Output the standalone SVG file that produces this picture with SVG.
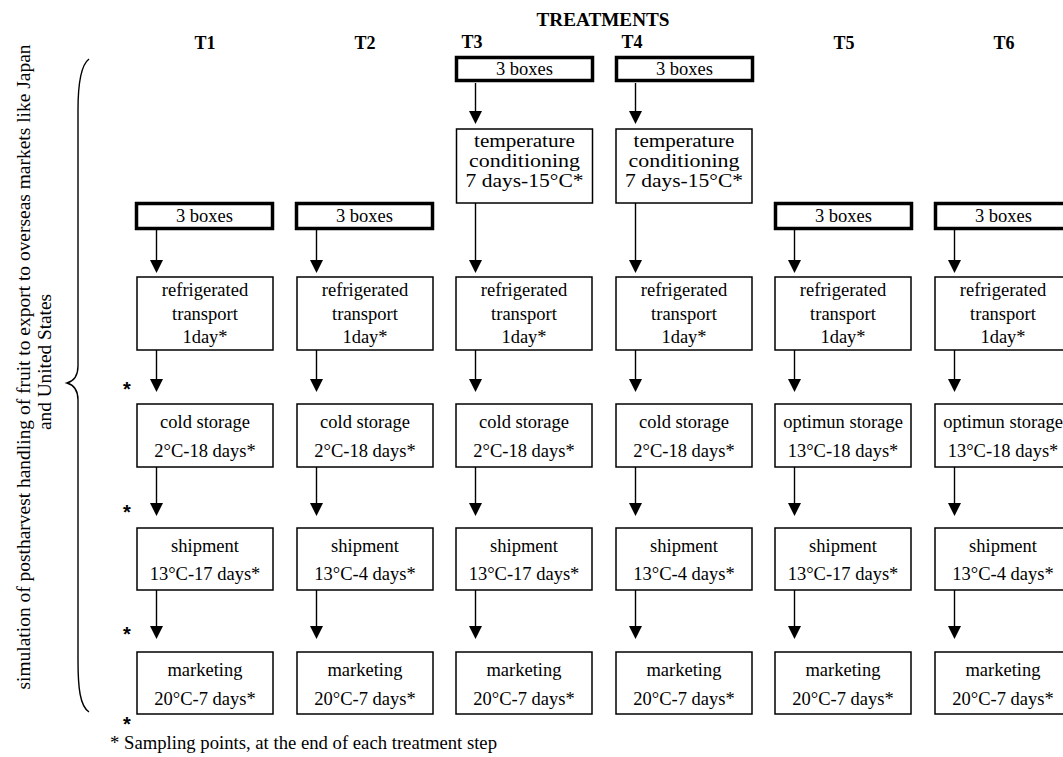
<svg xmlns="http://www.w3.org/2000/svg" width="1063" height="757" viewBox="0 0 1063 757">
<style>
.bx{fill:#fff;stroke:#000;stroke-width:1.5}
.tk{fill:#fff;stroke:#000;stroke-width:3.5}
.t{font-family:"Liberation Serif","Times New Roman",serif;font-size:18.5px;fill:#000;text-anchor:middle}
.ft{font-family:"Liberation Serif","Times New Roman",serif;font-size:18.5px;fill:#000;text-anchor:start}
.h{font-family:"Liberation Serif","Times New Roman",serif;font-size:18px;font-weight:bold;fill:#000;text-anchor:middle}
.st{font-family:"Liberation Sans",Arial,sans-serif;font-size:20px;font-weight:bold;fill:#000;text-anchor:middle}
.ln{stroke:#000;stroke-width:1.4;fill:none}
</style>
<defs>
<path id="head" d="M-6.5,-13 L6.5,-13 L0,0 Z"/>
</defs>

<g id="headers">
<text class="h" x="603" y="26" font-size="17" textLength="133" lengthAdjust="spacingAndGlyphs">TREATMENTS</text>
<text class="h" x="205" y="49">T1</text>
<text class="h" x="365" y="49">T2</text>
<text class="h" x="472" y="48">T3</text>
<text class="h" x="632" y="48">T4</text>
<text class="h" x="844" y="49">T5</text>
<text class="h" x="1004" y="49">T6</text>
</g>

<g id="side-label">
<path class="ln" stroke-width="1.3" d="M89,59 C81,65 78,85 78,110 L78,366 C78,376 74,381 67,383 C74,385 78,390 78,400 L78,660 C78,688 80,706 89,712"/>
<text class="t" font-size="19" transform="translate(30,367) rotate(-90)" textLength="645" lengthAdjust="spacingAndGlyphs">simulation of postharvest handling of fruit to export to overseas markets like Japan</text>
<text class="t" font-size="19" transform="translate(51,362) rotate(-90)" textLength="136" lengthAdjust="spacingAndGlyphs">and United States</text>
</g>

<g id="connectors">
<!-- T1 -->
<line class="ln" x1="156.5" y1="230" x2="156.5" y2="260"/><use href="#head" x="156.5" y="273"/>
<line class="ln" x1="156.5" y1="350" x2="156.5" y2="380"/><use href="#head" x="156.5" y="392"/>
<line class="ln" x1="156.5" y1="467" x2="156.5" y2="503"/><use href="#head" x="156.5" y="516"/>
<line class="ln" x1="156.5" y1="590" x2="156.5" y2="626"/><use href="#head" x="156.5" y="639"/>
<!-- T2 -->
<line class="ln" x1="316.5" y1="230" x2="316.5" y2="260"/><use href="#head" x="316.5" y="273"/>
<line class="ln" x1="316.5" y1="350" x2="316.5" y2="380"/><use href="#head" x="316.5" y="392"/>
<line class="ln" x1="316.5" y1="467" x2="316.5" y2="503"/><use href="#head" x="316.5" y="516"/>
<line class="ln" x1="316.5" y1="590" x2="316.5" y2="626"/><use href="#head" x="316.5" y="639"/>
<!-- T3 -->
<line class="ln" x1="475.5" y1="83" x2="475.5" y2="111"/><use href="#head" x="475.5" y="124"/>
<line class="ln" x1="475.5" y1="203" x2="475.5" y2="260"/><use href="#head" x="475.5" y="273"/>
<line class="ln" x1="475.5" y1="350" x2="475.5" y2="380"/><use href="#head" x="475.5" y="392"/>
<line class="ln" x1="475.5" y1="467" x2="475.5" y2="503"/><use href="#head" x="475.5" y="516"/>
<line class="ln" x1="475.5" y1="590" x2="475.5" y2="626"/><use href="#head" x="475.5" y="639"/>
<!-- T4 -->
<line class="ln" x1="635.5" y1="83" x2="635.5" y2="111"/><use href="#head" x="635.5" y="124"/>
<line class="ln" x1="635.5" y1="203" x2="635.5" y2="260"/><use href="#head" x="635.5" y="273"/>
<line class="ln" x1="635.5" y1="350" x2="635.5" y2="380"/><use href="#head" x="635.5" y="392"/>
<line class="ln" x1="635.5" y1="467" x2="635.5" y2="503"/><use href="#head" x="635.5" y="516"/>
<line class="ln" x1="635.5" y1="590" x2="635.5" y2="626"/><use href="#head" x="635.5" y="639"/>
<!-- T5 -->
<line class="ln" x1="794.5" y1="230" x2="794.5" y2="260"/><use href="#head" x="794.5" y="273"/>
<line class="ln" x1="794.5" y1="350" x2="794.5" y2="380"/><use href="#head" x="794.5" y="392"/>
<line class="ln" x1="794.5" y1="467" x2="794.5" y2="503"/><use href="#head" x="794.5" y="516"/>
<line class="ln" x1="794.5" y1="590" x2="794.5" y2="626"/><use href="#head" x="794.5" y="639"/>
<!-- T6 -->
<line class="ln" x1="954.5" y1="230" x2="954.5" y2="260"/><use href="#head" x="954.5" y="273"/>
<line class="ln" x1="954.5" y1="350" x2="954.5" y2="380"/><use href="#head" x="954.5" y="392"/>
<line class="ln" x1="954.5" y1="467" x2="954.5" y2="503"/><use href="#head" x="954.5" y="516"/>
<line class="ln" x1="954.5" y1="590" x2="954.5" y2="626"/><use href="#head" x="954.5" y="639"/>
</g>

<!-- T1 -->
<g id="t1-boxes"><rect class="tk" x="136.5" y="203.5" width="136" height="25"/><text class="t" x="204.5" y="222">3 boxes</text></g>
<g id="t1-transport"><rect class="bx" x="137" y="277" width="136" height="73"/><text class="t" x="205" y="296">refrigerated</text><text class="t" x="205" y="319.5">transport</text><text class="t" x="205" y="343">1day*</text></g>
<g id="t1-storage"><rect class="bx" x="137" y="404" width="136" height="63"/><text class="t" x="205" y="428">cold storage</text><text class="t" x="205" y="457">2°C-18 days*</text></g>
<g id="t1-shipment"><rect class="bx" x="137" y="528" width="136" height="62"/><text class="t" x="205" y="552">shipment</text><text class="t" x="205" y="580">13°C-17 days*</text></g>
<g id="t1-marketing"><rect class="bx" x="137" y="652" width="136" height="62"/><text class="t" x="205" y="676">marketing</text><text class="t" x="205" y="705">20°C-7 days*</text></g>

<!-- T2 -->
<g id="t2-boxes"><rect class="tk" x="296.5" y="203.5" width="136" height="25"/><text class="t" x="364.5" y="222">3 boxes</text></g>
<g id="t2-transport"><rect class="bx" x="297" y="277" width="136" height="73"/><text class="t" x="365" y="296">refrigerated</text><text class="t" x="365" y="319.5">transport</text><text class="t" x="365" y="343">1day*</text></g>
<g id="t2-storage"><rect class="bx" x="297" y="404" width="136" height="63"/><text class="t" x="365" y="428">cold storage</text><text class="t" x="365" y="457">2°C-18 days*</text></g>
<g id="t2-shipment"><rect class="bx" x="297" y="528" width="136" height="62"/><text class="t" x="365" y="552">shipment</text><text class="t" x="365" y="580">13°C-4 days*</text></g>
<g id="t2-marketing"><rect class="bx" x="297" y="652" width="136" height="62"/><text class="t" x="365" y="676">marketing</text><text class="t" x="365" y="705">20°C-7 days*</text></g>

<!-- T3 -->
<g id="t3-boxes"><rect class="tk" x="456.5" y="57.5" width="136" height="23"/><text class="t" x="524.5" y="75">3 boxes</text></g>
<g id="t3-conditioning"><rect class="bx" x="456.5" y="129" width="136" height="74"/><text class="t" x="524.5" y="147" textLength="101" lengthAdjust="spacingAndGlyphs">temperature</text><text class="t" x="524.5" y="167" textLength="111" lengthAdjust="spacingAndGlyphs">conditioning</text><text class="t" x="524.5" y="187" textLength="118" lengthAdjust="spacingAndGlyphs">7 days-15°C*</text></g>
<g id="t3-transport"><rect class="bx" x="456" y="277" width="136" height="73"/><text class="t" x="524" y="296">refrigerated</text><text class="t" x="524" y="319.5">transport</text><text class="t" x="524" y="343">1day*</text></g>
<g id="t3-storage"><rect class="bx" x="456" y="404" width="136" height="63"/><text class="t" x="524" y="428">cold storage</text><text class="t" x="524" y="457">2°C-18 days*</text></g>
<g id="t3-shipment"><rect class="bx" x="456" y="528" width="136" height="62"/><text class="t" x="524" y="552">shipment</text><text class="t" x="524" y="580">13°C-17 days*</text></g>
<g id="t3-marketing"><rect class="bx" x="456" y="652" width="136" height="62"/><text class="t" x="524" y="676">marketing</text><text class="t" x="524" y="705">20°C-7 days*</text></g>

<!-- T4 -->
<g id="t4-boxes"><rect class="tk" x="616.5" y="57.5" width="136" height="23"/><text class="t" x="684.5" y="75">3 boxes</text></g>
<g id="t4-conditioning"><rect class="bx" x="616" y="129" width="136" height="74"/><text class="t" x="684" y="147" textLength="101" lengthAdjust="spacingAndGlyphs">temperature</text><text class="t" x="684" y="167" textLength="111" lengthAdjust="spacingAndGlyphs">conditioning</text><text class="t" x="684" y="187" textLength="118" lengthAdjust="spacingAndGlyphs">7 days-15°C*</text></g>
<g id="t4-transport"><rect class="bx" x="616" y="277" width="136" height="73"/><text class="t" x="684" y="296">refrigerated</text><text class="t" x="684" y="319.5">transport</text><text class="t" x="684" y="343">1day*</text></g>
<g id="t4-storage"><rect class="bx" x="616" y="404" width="136" height="63"/><text class="t" x="684" y="428">cold storage</text><text class="t" x="684" y="457">2°C-18 days*</text></g>
<g id="t4-shipment"><rect class="bx" x="616" y="528" width="136" height="62"/><text class="t" x="684" y="552">shipment</text><text class="t" x="684" y="580">13°C-4 days*</text></g>
<g id="t4-marketing"><rect class="bx" x="616" y="652" width="136" height="62"/><text class="t" x="684" y="676">marketing</text><text class="t" x="684" y="705">20°C-7 days*</text></g>

<!-- T5 -->
<g id="t5-boxes"><rect class="tk" x="775.5" y="203.5" width="136" height="25"/><text class="t" x="843.5" y="222">3 boxes</text></g>
<g id="t5-transport"><rect class="bx" x="775" y="277" width="136" height="73"/><text class="t" x="843" y="296">refrigerated</text><text class="t" x="843" y="319.5">transport</text><text class="t" x="843" y="343">1day*</text></g>
<g id="t5-storage"><rect class="bx" x="775" y="404" width="136" height="63"/><text class="t" x="843" y="428">optimun storage</text><text class="t" x="843" y="457">13°C-18 days*</text></g>
<g id="t5-shipment"><rect class="bx" x="775" y="528" width="136" height="62"/><text class="t" x="843" y="552">shipment</text><text class="t" x="843" y="580">13°C-17 days*</text></g>
<g id="t5-marketing"><rect class="bx" x="775" y="652" width="136" height="62"/><text class="t" x="843" y="676">marketing</text><text class="t" x="843" y="705">20°C-7 days*</text></g>

<!-- T6 -->
<g id="t6-boxes"><rect class="tk" x="935.5" y="203.5" width="136" height="25"/><text class="t" x="1003.5" y="222">3 boxes</text></g>
<g id="t6-transport"><rect class="bx" x="935" y="277" width="136" height="73"/><text class="t" x="1003" y="296">refrigerated</text><text class="t" x="1003" y="319.5">transport</text><text class="t" x="1003" y="343">1day*</text></g>
<g id="t6-storage"><rect class="bx" x="935" y="404" width="136" height="63"/><text class="t" x="1003" y="428">optimun storage</text><text class="t" x="1003" y="457">13°C-18 days*</text></g>
<g id="t6-shipment"><rect class="bx" x="935" y="528" width="136" height="62"/><text class="t" x="1003" y="552">shipment</text><text class="t" x="1003" y="580">13°C-4 days*</text></g>
<g id="t6-marketing"><rect class="bx" x="935" y="652" width="136" height="62"/><text class="t" x="1003" y="676">marketing</text><text class="t" x="1003" y="705">20°C-7 days*</text></g>

<g id="sampling-marks">
<text class="st" x="127" y="396">*</text>
<text class="st" x="127" y="519">*</text>
<text class="st" x="127" y="641">*</text>
<text class="st" x="127" y="731">*</text>
</g>
<g id="footnote">
<text class="ft" x="110" y="749" textLength="387" lengthAdjust="spacingAndGlyphs">* Sampling points, at the end of each treatment step</text>
</g>
</svg>
